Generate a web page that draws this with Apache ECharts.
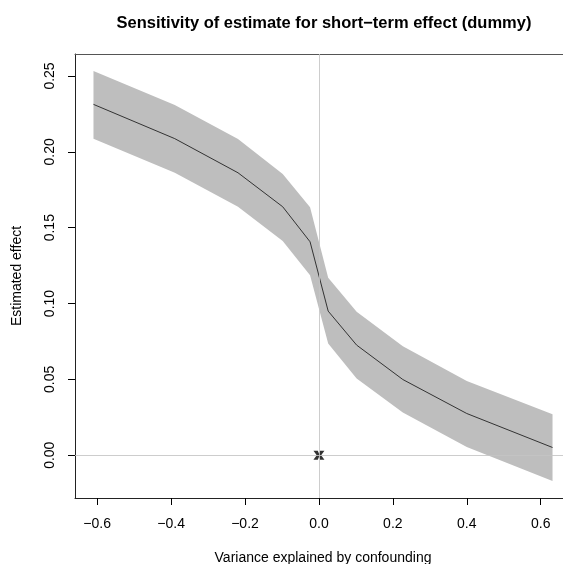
<!DOCTYPE html>
<html>
<head>
<meta charset="utf-8">
<script src="https://cdn.jsdelivr.net/npm/echarts@6/dist/echarts.min.js"></script>
<style>html,body{margin:0;padding:0;background:#fff}#c{width:563px;height:564px}</style>
</head>
<body>
<div id="c"></div>
<script>
var titleText = 'Sensitivity of estimate for short\u2212term effect (dummy)';
var xName = 'Variance explained by confounding';
var yName = 'Estimated effect';
var xVals = [-0.61, -0.39, -0.219, -0.098, -0.024, 0.025, 0.102, 0.227, 0.40, 0.632];
var est   = [0.2313, 0.2087, 0.1862, 0.1638, 0.1407, 0.0950, 0.0726, 0.0499, 0.0275, 0.0051];
var upper = [0.2533, 0.2309, 0.2084, 0.1854, 0.1634, 0.1170, 0.0946, 0.0719, 0.0490, 0.0270];
var lower = [0.2087, 0.1862, 0.1638, 0.1412, 0.1187, 0.0737, 0.0506, 0.0281, 0.0055, -0.0170];
var xTicks = [-0.6, -0.4, -0.2, 0.0, 0.2, 0.4, 0.6];
var yTicks = [0.00, 0.05, 0.10, 0.15, 0.20, 0.25];
var refPoint = [[0, 0]];

var FONT = '"Liberation Sans", Arial, Helvetica, sans-serif';
var chart = echarts.init(document.getElementById('c'), null, {renderer: 'canvas'});

var bandData = xVals.map(function (x, i) { return [x, upper[i], lower[i]]; });
var lineData = xVals.map(function (x, i) { return [x, est[i]]; });
var XMIN = -0.66, XMAX = 0.682;

chart.setOption({
  animation: false,
  backgroundColor: '#ffffff',
  title: {
    text: titleText,
    left: 319, top: 10, textAlign: 'center',
    textStyle: {fontFamily: FONT, fontWeight: 'bold', fontSize: 16.5, color: '#000'}
  },
  grid: {
    left: 75, top: 54, width: 496, height: 444,
    outerBoundsMode: 'none', containLabel: false, show: false
  },
  xAxis: [{
    type: 'value', min: XMIN, max: XMAX, position: 'bottom',
    name: xName, nameLocation: 'middle', nameGap: 53,
    nameTextStyle: {fontFamily: FONT, fontSize: 14, color: '#000'},
    axisLine: {show: true, onZero: false, lineStyle: {color: '#222', width: 1}},
    splitLine: {show: false},
    axisTick: {show: true, inside: false, length: 7, customValues: xTicks, lineStyle: {color: '#000', width: 1}},
    axisLabel: {
      customValues: xTicks, margin: 19, fontFamily: FONT, fontSize: 14, color: '#000',
      formatter: function (v) { return v.toFixed(1).replace('-', '\u2212').replace('\u22120.0', '0.0'); }
    }
  }, {
    type: 'value', min: XMIN, max: XMAX, position: 'top',
    axisLine: {show: true, onZero: false, lineStyle: {color: '#555', width: 1}},
    axisTick: {show: false}, axisLabel: {show: false}, splitLine: {show: false}
  }],
  yAxis: {
    type: 'value', min: -0.0282, max: 0.2645,
    name: yName, nameLocation: 'middle', nameGap: 51,
    nameTextStyle: {fontFamily: FONT, fontSize: 14, color: '#000'},
    axisLine: {show: true, onZero: false, lineStyle: {color: '#222', width: 1}},
    splitLine: {show: false},
    axisTick: {show: true, inside: false, length: 7, customValues: yTicks, lineStyle: {color: '#000', width: 1}},
    axisLabel: {
      customValues: yTicks, rotate: 90, margin: 18, fontFamily: FONT, fontSize: 14, color: '#000',
      formatter: function (v) { return v.toFixed(2); }
    }
  },
  series: [
    {
      type: 'custom',
      z: 1,
      silent: true,
      data: bandData,
      renderItem: function (params, api) {
        if (params.dataIndex !== 0) return null;
        var pts = [];
        for (var i = 0; i < bandData.length; i++) pts.push(api.coord([bandData[i][0], bandData[i][1]]));
        for (var j = bandData.length - 1; j >= 0; j--) pts.push(api.coord([bandData[j][0], bandData[j][2]]));
        return {type: 'polygon', shape: {points: pts}, style: {fill: '#bebebe', stroke: null}};
      }
    },
    {
      type: 'line',
      z: 3,
      data: lineData,
      symbol: 'none',
      lineStyle: {color: '#333', width: 1},
      markLine: {
        silent: true, symbol: 'none', label: {show: false},
        lineStyle: {color: '#c4c4c4', width: 1, type: 'solid', opacity: 0.85},
        data: [{xAxis: 0}, {yAxis: 0}]
      }
    },
    {
      type: 'scatter',
      z: 4,
      data: refPoint,
      symbol: 'path://M0,0 L4,0 L5,2.5 L6,0 L10,0 L7,4 L10,8 L6,8 L5,5.5 L4,8 L0,8 L3,4 Z',
      symbolSize: [11, 9],
      itemStyle: {color: '#000'}
    }
  ]
});
</script>
</body>
</html>
